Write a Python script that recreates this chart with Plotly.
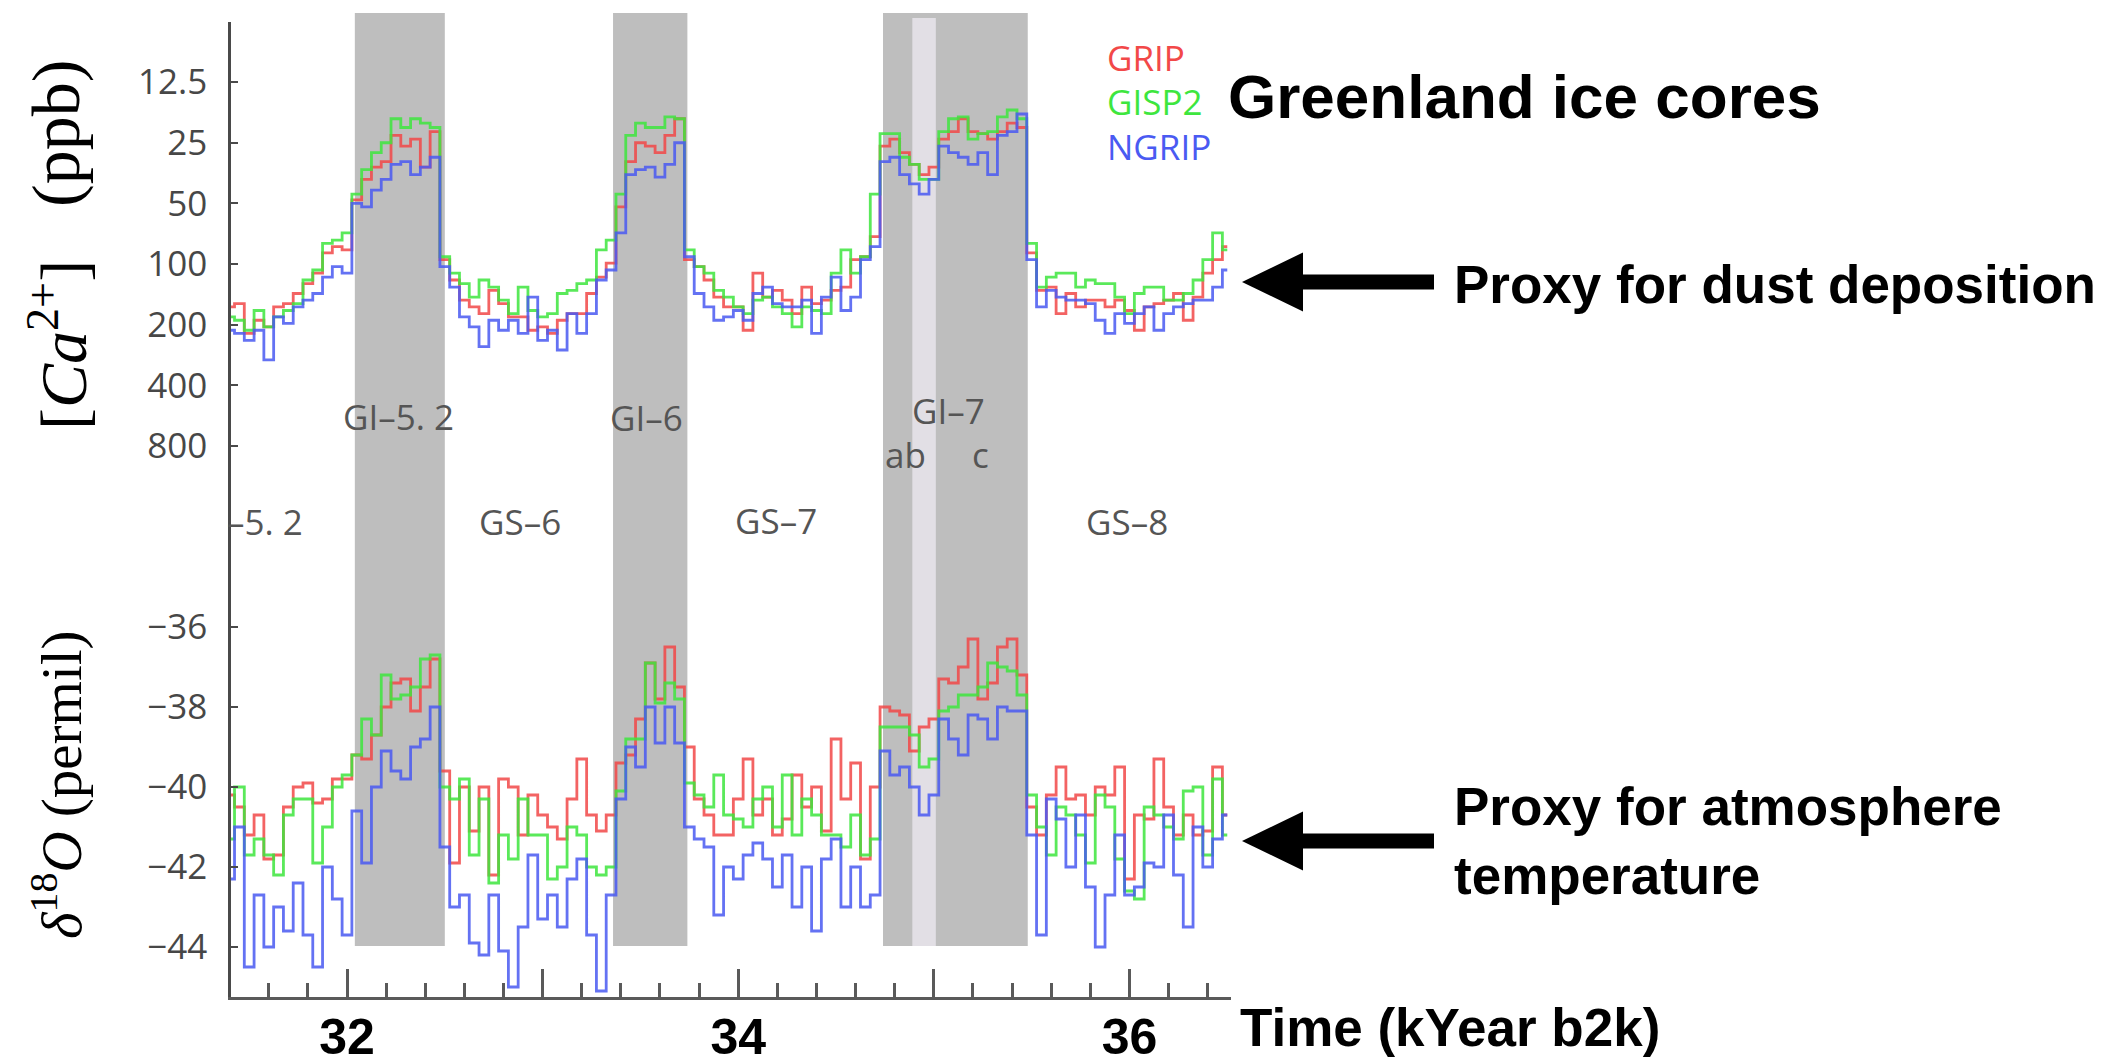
import numpy as np
import plotly.graph_objects as go

W, H = 2106, 1064
def fx(p): return p / W
def fy(p): return 1 - p / H

# ---------------- data ----------------
TIME = np.round(np.arange(31.40, 36.5001, 0.05), 2)  # kyr b2k, 103 samples

GRIP_CA = [163,157,221,190,205,163,157,140,125,111,
           88,82,85,48,38,33,31,23,26,24,
           33,22,95,120,151,163,176,135,157,183,
           183,213,205,221,190,176,176,140,116,99,
           52,31,25,26,28,23,19,95,103,120,
           146,163,163,213,111,146,135,151,176,130,
           157,151,135,130,95,92,73,26,24,28,
           32,36,33,24,22,19,22,22.5,24,22,
           20,21,88,135,130,176,140,163,151,151,
           163,151,170,213,163,157,151,140,190,146,
           111,95,82]
GISP2_CA = [183,190,213,170,205,183,170,157,120,107,
            79,76,70,45,34,28,25,19,21,19,
            20,21,92,111,125,146,120,130,151,176,
            130,170,183,176,140,135,125,120,85,76,
            45,23,20,21,21,18.6,19,85,103,111,
            135,146,163,176,151,146,163,176,205,163,
            170,176,111,85,111,92,45,22.5,22.5,29.5,
            32,38,38,22,19,18.6,24,22.5,22,18.6,
            17.2,19,79,130,116,111,111,130,120,125,
            125,146,176,140,130,130,151,151,140,120,
            95,70,85]
NGRIP_CA = [213,221,239,213,299,183,197,163,151,140,
            116,103,111,50,52,43,38,32,31,36,
            33,29.5,103,130,183,205,257,190,213,190,
            221,146,239,213,267,176,221,176,120,107,
            70,36,34,33,37,32,25,92,140,163,
            190,183,170,190,140,130,157,163,163,151,
            221,146,116,170,146,95,82,31,29.5,36,
            40,45,38,26,28,29.5,32,28,36,23,
            22,18,95,163,135,146,151,151,157,190,
            221,176,197,176,163,213,176,163,157,151,
            151,130,107]

GRIP_D18O = [-40.2,-40.5,-41.2,-40.7,-41.8,-41.7,-40.5,-40.0,-39.9,-40.4,
             -40.3,-39.8,-39.8,-39.2,-39.3,-38.7,-38.0,-37.4,-37.3,-38.1,
             -37.5,-36.8,-39.6,-41.9,-40.0,-41.1,-40.0,-42.2,-39.8,-40.0,
             -41.2,-40.2,-40.7,-41.0,-41.3,-40.3,-39.3,-40.7,-41.1,-40.7,
             -39.4,-39.2,-38.3,-36.9,-37.8,-36.5,-37.5,-39.0,-40.3,-40.7,
             -41.2,-41.2,-40.3,-39.3,-40.7,-40.3,-41.2,-40.8,-39.7,-40.5,
             -40.0,-41.1,-38.8,-40.3,-39.4,-41.8,-40.0,-38.0,-38.1,-38.2,
             -39.1,-38.5,-38.3,-37.3,-37.4,-37.0,-36.3,-37.8,-37.4,-36.5,
             -36.3,-37.2,-40.5,-41.2,-40.2,-39.5,-40.3,-40.2,-40.7,-40.0,
             -40.2,-39.5,-42.3,-40.7,-40.8,-39.3,-40.5,-41.2,-40.7,-41.2,
             -41.1,-39.5,-40.7]
GISP2_D18O = [-41.3,-40.0,-41.7,-41.3,-41.7,-42.2,-40.7,-40.3,-40.3,-41.9,
              -41.0,-40.0,-39.7,-39.2,-38.3,-38.7,-37.2,-37.8,-37.7,-37.5,
              -36.8,-36.7,-40.0,-40.3,-39.8,-41.7,-40.3,-42.4,-41.2,-41.8,
              -40.3,-41.2,-41.2,-42.3,-42.0,-41.0,-41.2,-42.0,-42.2,-42.0,
              -40.1,-38.8,-38.8,-36.9,-37.9,-37.4,-37.8,-39.9,-40.2,-40.5,
              -39.7,-40.7,-40.8,-41.0,-40.3,-40.0,-41.0,-39.7,-41.2,-40.3,
              -40.7,-41.2,-41.2,-41.5,-40.7,-41.7,-41.3,-38.5,-38.5,-38.5,
              -38.7,-39.5,-39.3,-38.1,-38.0,-37.7,-37.7,-37.5,-36.9,-37.0,
              -37.1,-37.7,-40.2,-41.0,-41.7,-40.5,-40.7,-41.2,-41.9,-40.2,
              -40.5,-41.8,-42.6,-42.8,-40.5,-40.7,-41.0,-41.3,-40.1,-40.0,
              -41.7,-39.8,-41.2]
NGRIP_D18O = [-42.3,-41.0,-44.5,-42.7,-44.0,-43.0,-43.6,-42.4,-43.7,-44.5,
              -42.0,-42.8,-43.7,-40.6,-41.9,-40.0,-39.1,-39.6,-39.8,-39.0,
              -38.8,-38.0,-41.5,-43.0,-42.7,-43.9,-44.2,-42.7,-44.1,-45.0,
              -43.5,-41.7,-43.3,-42.7,-43.5,-42.3,-41.8,-43.7,-45.1,-42.7,
              -40.3,-39.0,-39.5,-38.0,-38.9,-38.0,-38.9,-41.0,-41.3,-41.5,
              -43.2,-42.0,-42.3,-41.7,-41.4,-41.8,-42.5,-41.7,-43.0,-42.0,
              -43.6,-41.8,-41.3,-43.0,-42.0,-43.0,-42.7,-39.1,-39.7,-39.5,
              -40.0,-40.7,-40.2,-38.3,-38.8,-39.2,-38.2,-38.3,-38.8,-38.0,
              -38.1,-38.1,-41.2,-43.7,-40.3,-40.8,-42.0,-40.7,-42.5,-44.0,
              -42.7,-41.2,-42.7,-42.5,-41.9,-42.0,-40.7,-42.2,-43.5,-41.0,
              -42.0,-41.3,-40.7]

CORES = ["GRIP", "GISP2", "NGRIP"]
COLORS = ["#f24848", "#3ee63e", "#4a5af2"]

# Greenland interstadials (kyr b2k)
GI_BANDS = [(32.04, 32.50), (33.36, 33.74), (34.74, 35.48)]
GI7B_STRIP = (34.89, 35.01)

CA_TICKS = [12.5, 25, 50, 100, 200, 400, 800]
CA_TICKTEXT = ["12.5", "25", "50", "100", "200", "400", "800"]
D18O_TICKS = [-36, -38, -40, -42, -44]
D18O_TICKTEXT = ["\u221236", "\u221238", "\u221240", "\u221242", "\u221244"]
X_LABEL_TICKS = [32, 34, 36]
X_LABEL_TEXT = ["32", "34", "36"]
X_UNLABELLED_TICKS = [33, 35]

EVENT_LABELS = [("GI\u20135. 2", 32.263, 416), ("GI\u20136", 33.529, 417),
                ("GI\u20137", 35.073, 410), ("ab", 34.853, 455), ("c", 35.236, 455),
                ("GS\u20136", 32.884, 521), ("GS\u20137", 34.193, 520), ("GS\u20138", 35.988, 521)]

# ---------------- figure ----------------
fig = go.Figure()
ca_series = [GRIP_CA, GISP2_CA, NGRIP_CA]
d_series = [GRIP_D18O, GISP2_D18O, NGRIP_D18O]
for name, col, ca, d in zip(CORES, COLORS, ca_series, d_series):
    fig.add_trace(go.Scatter(x=TIME, y=ca, mode="lines", name=name, xaxis="x", yaxis="y",
                             line=dict(color=col, width=2.8, shape="hvh"), opacity=0.85,
                             showlegend=False, hoverinfo="skip"))
    fig.add_trace(go.Scatter(x=TIME, y=d, mode="lines", name=name, xaxis="x", yaxis="y2",
                             line=dict(color=col, width=2.8, shape="hvh"), opacity=0.85,
                             showlegend=False, hoverinfo="skip"))
# invisible carrier so the unlabelled-major-tick axis is drawn
fig.add_trace(go.Scatter(x=[None], y=[None], xaxis="x2", yaxis="y2", mode="lines",
                         showlegend=False, hoverinfo="skip"))

shapes = []
for x0, x1 in GI_BANDS:
    shapes.append(dict(type="rect", xref="x", yref="paper", x0=x0, x1=x1, y0=fy(946), y1=fy(13),
                       fillcolor="#bebebe", line=dict(width=0), layer="below"))
shapes.append(dict(type="rect", xref="x", yref="paper", x0=GI7B_STRIP[0], x1=GI7B_STRIP[1],
                   y0=fy(946), y1=fy(18), fillcolor="#e2dfe5", line=dict(width=0), layer="below"))

def arrow(yc):
    tip, base, shaft_end = 1242, 1303, 1434
    hh, sh = 29.5, 7.5
    path = (f"M {fx(tip)},{fy(yc)} L {fx(base)},{fy(yc - hh)} L {fx(base)},{fy(yc + hh)} Z")
    return [dict(type="path", xref="paper", yref="paper", path=path, fillcolor="black",
                 line=dict(width=0)),
            dict(type="rect", xref="paper", yref="paper", x0=fx(base - 3), x1=fx(shaft_end),
                 y0=fy(yc + sh), y1=fy(yc - sh), fillcolor="black", line=dict(width=0))]
shapes += arrow(282) + arrow(841)

LBL_FONT = dict(family="Open Sans, Noto Sans, sans-serif", size=35, color="#555555")
BOLD = "Liberation Sans, Arial, Helvetica, sans-serif"
ann = []
for txt, xv, yp in EVENT_LABELS:
    ann.append(dict(text=txt, x=xv, xref="x", y=fy(yp), yref="paper", showarrow=False,
                    xanchor="center", yanchor="middle", font=LBL_FONT, borderpad=0))
ann.append(dict(text="\u20135. 2", x=fx(305), xref="paper", y=fy(521), yref="paper",
                showarrow=False, xanchor="right", yanchor="middle", font=LBL_FONT))
for name, col, yp in zip(CORES, COLORS, [57, 101, 146]):
    ann.append(dict(text=name, x=fx(1105), xref="paper", y=fy(yp), yref="paper", showarrow=False,
                    xanchor="left", yanchor="middle",
                    font=dict(family="Open Sans, sans-serif", size=35, color=col)))
ann.append(dict(text="<b>Greenland ice cores</b>", x=fx(1226), y=fy(97), xref="paper", yref="paper",
                showarrow=False, xanchor="left", yanchor="middle",
                font=dict(family=BOLD, size=62, color="black")))
ann.append(dict(text="<b>Proxy for dust deposition</b>", x=fx(1452), y=fy(285), xref="paper",
                yref="paper", showarrow=False, xanchor="left", yanchor="middle",
                font=dict(family=BOLD, size=53, color="black")))
ann.append(dict(text="<b>Proxy for atmosphere</b><br><b>temperature</b>", x=fx(1452), y=fy(841),
                xref="paper", yref="paper", showarrow=False, xanchor="left", yanchor="middle",
                align="left", font=dict(family=BOLD, size=53, color="black")))
ann.append(dict(text="<b>Time (kYear b2k)</b>", x=fx(1238), y=fy(1027), xref="paper", yref="paper",
                showarrow=False, xanchor="left", yanchor="middle",
                font=dict(family=BOLD, size=53, color="black")))
SERIF = "Liberation Serif, DejaVu Serif, serif"
ann.append(dict(text="(ppb)", x=fx(56), y=fy(134), xref="paper", yref="paper", showarrow=False,
                textangle=-90, xanchor="center", yanchor="middle",
                font=dict(family=SERIF, size=68, color="black")))
ann.append(dict(text="[<i>Ca</i><sup>2+</sup>]", x=fx(58), y=fy(345), xref="paper", yref="paper",
                showarrow=False, textangle=-90, xanchor="center", yanchor="middle",
                font=dict(family=SERIF, size=66, color="black")))
ann.append(dict(text="<i>\u03b4</i><sup>18</sup><i>O</i> (permil)", x=fx(57), y=fy(785),
                xref="paper", yref="paper", showarrow=False, textangle=-90,
                xanchor="center", yanchor="middle",
                font=dict(family=SERIF, size=57, color="black")))

AX = "#4a4a4a"
TICKFONT = dict(family="Open Sans, Noto Sans, sans-serif", size=35, color="#474747")
XRANGE = [31.407, 36.519]
XDOM = [fx(231), fx(1231)]
fig.update_layout(
    width=W, height=H, margin=dict(l=0, r=0, t=0, b=0),
    paper_bgcolor="white", plot_bgcolor="rgba(0,0,0,0)",
    showlegend=False, shapes=shapes, annotations=ann,
    xaxis=dict(domain=XDOM, range=XRANGE, anchor="y2",
               showline=True, linecolor="#5a5a5a", linewidth=3, showgrid=False, zeroline=False,
               ticks="inside", ticklen=28, tickwidth=2.5, tickcolor="#5a5a5a",
               tickmode="array", tickvals=X_LABEL_TICKS, ticktext=X_LABEL_TEXT,
               tickfont=dict(family=BOLD, size=50, color="black", weight="bold"),
               ticklabelstandoff=-6, automargin=False,
               minor=dict(tickmode="linear", tick0=31.4, dtick=0.2, ticks="inside", ticklen=14,
                          tickwidth=2.5, tickcolor="#5a5a5a", showgrid=False)),
    xaxis2=dict(domain=XDOM, range=XRANGE, anchor="y2", overlaying="x", side="bottom",
                showline=False, showgrid=False, zeroline=False, showticklabels=False,
                ticks="inside", ticklen=28, tickwidth=2.5, tickcolor="#5a5a5a",
                tickmode="array", tickvals=X_UNLABELLED_TICKS),
    yaxis=dict(domain=[fy(520), fy(22)], type="log", range=[3.2701, 0.7987], anchor="x",
               showline=True, linecolor=AX, linewidth=2.5, showgrid=False, zeroline=False,
               ticks="inside", ticklen=7, tickwidth=2, tickcolor=AX,
               tickmode="array", tickvals=CA_TICKS, ticktext=CA_TICKTEXT, tickfont=TICKFONT,
               ticklabelstandoff=14, automargin=False),
    yaxis2=dict(domain=[fy(997), fy(520)], range=[-45.25, -33.325], anchor="x",
                showline=True, linecolor=AX, linewidth=2.5, showgrid=False, zeroline=False,
                ticks="inside", ticklen=7, tickwidth=2, tickcolor=AX,
                tickmode="array", tickvals=D18O_TICKS, ticktext=D18O_TICKTEXT, tickfont=TICKFONT,
                ticklabelstandoff=14, automargin=False),
)

fig.write_html("out.html")
